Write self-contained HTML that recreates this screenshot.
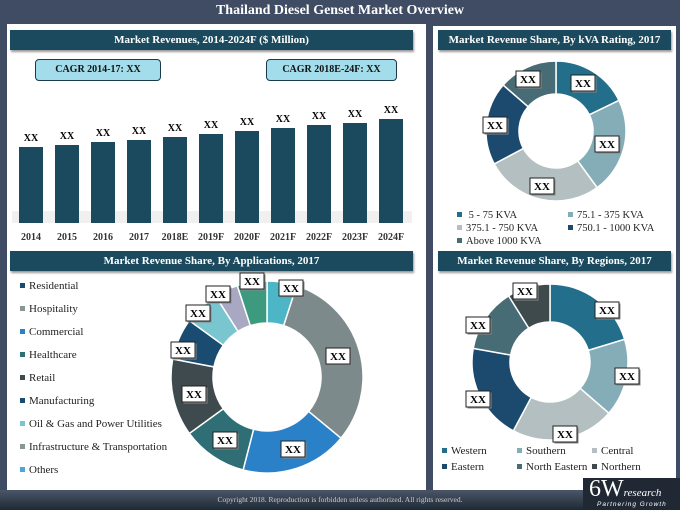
<!DOCTYPE html>
<html><head><meta charset="utf-8">
<style>
*{margin:0;padding:0;box-sizing:border-box}
body{width:680px;height:510px;overflow:hidden;background:#3f4c63;font-family:"Liberation Serif",serif;position:relative}
.abs{position:absolute}
.hdr{position:absolute;background:#1b4a5e;color:#fff;font-weight:bold;font-size:11px;text-align:center;line-height:20px;box-shadow:1px 2px 2px #999}
.panel{position:absolute;background:#fff}
.cagr{position:absolute;background:#a3dcea;border:1.5px solid #1b3a4e;border-radius:4px;font-weight:bold;font-size:10px;text-align:center;line-height:19px;color:#111}
.leg{position:absolute;font-size:10.5px;color:#222;white-space:nowrap}
.leg i{display:inline-block;width:5px;height:5px;margin-right:4px;vertical-align:middle;position:relative;top:-1px}
</style></head><body>
<div class="abs" style="left:0;top:3px;width:680px;text-align:center;color:#fff;font-weight:bold;font-size:14px">Thailand Diesel Genset Market Overview</div>
<div class="panel" style="left:7px;top:24px;width:419px;height:466px"></div>
<div class="panel" style="left:433px;top:26px;width:243px;height:464px"></div>
<div class="hdr" style="left:10px;top:30px;width:403px">Market Revenues, 2014-2024F ($ Million)</div>
<div class="cagr" style="left:35px;top:59px;width:126px;height:22px">CAGR 2014-17: XX</div>
<div class="cagr" style="left:266px;top:59px;width:131px;height:22px">CAGR 2018E-24F: XX</div>
<div class="hdr" style="left:10px;top:251px;width:403px">Market Revenue Share, By Applications, 2017</div>
<div class="hdr" style="left:438px;top:30px;width:233px">Market Revenue Share, By kVA Rating, 2017</div>
<div class="hdr" style="left:438px;top:251px;width:233px">Market Revenue Share, By Regions, 2017</div>

<svg id="svg" class="abs" style="left:0;top:0" width="680" height="510"></svg>

<div id="legends"></div>
<div class="abs" style="left:0;top:490px;width:680px;height:20px;background:linear-gradient(#4a5668,#1f2935)"></div>
<div class="abs" style="left:0;top:495px;width:680px;text-align:center;color:#ccc;font-size:7.5px">Copyright 2018. Reproduction is forbidden unless authorized. All rights reserved.</div>
<div class="abs" style="left:583px;top:478px;width:97px;height:32px;background:#1f2833;color:#fff">
 <div style="position:absolute;left:6px;top:-2px;font-size:24px;line-height:26px">6W<span style="font-size:11px;font-style:italic">research</span></div>
 <div style="position:absolute;left:14px;top:23px;font-size:6.5px;font-style:italic;letter-spacing:1px;font-family:'Liberation Sans',sans-serif">Partnering Growth</div>
</div>

<script>
const years=["2014","2015","2016","2017","2018E","2019F","2020F","2021F","2022F","2023F","2024F"];
const revenues=[76,78,81,83,86,89,92,95,98,100,104];
const appNames=["Others","Hospitality","Commercial","Healthcare","Retail","Manufacturing","Oil & Gas and Power Utilities","Infrastructure & Transportation","Green"];
const appShares=[5,31,18,11,13,7,6,4,5];
const kvaNames=["5 - 75 KVA","75.1 - 375 KVA","375.1 - 750 KVA","750.1 - 1000 KVA","Above 1000 KVA"];
const kvaShares=[17.8,22.2,27.2,19.2,13.6];
const regionNames=["Western","Southern","Central","Eastern","North Eastern","Northern"];
const regionShares=[20.3,16.1,21.4,20,13.3,8.9];

const NS="http://www.w3.org/2000/svg";
const svg=document.getElementById('svg');
function mk(t,a,p){const e=document.createElementNS(NS,t);for(const k in a)e.setAttribute(k,a[k]);(p||svg).appendChild(e);return e;}
function box(x,y,p){const g=mk('g',{});
 
 
 mk('rect',{x:x-12+1.5,y:y-8+1.5,width:24,height:16,fill:'#888'},g);
 mk('rect',{x:x-12,y:y-8,width:24,height:16,fill:'#fff',stroke:'#222','stroke-width':1},g);
 const t=mk('text',{x:x,y:y+4,'text-anchor':'middle','font-size':11,'font-weight':'bold','font-family':'Liberation Serif, serif'},g);t.textContent='XX';}

// bars
const base=223,x0=31,step=36,bw=24,scale=1;
const ys=v=>base-v*scale;
mk('rect',{x:12,y:base-12,width:400,height:12,fill:'#e6e6e6',opacity:0.6});
years.forEach((y,i)=>{
 const cx=x0+i*step;
 const r=mk('rect',{x:cx-bw/2,y:ys(revenues[i]),width:bw,height:revenues[i]*scale,fill:'#1b4a5e'});
 
 
 const l=mk('text',{x:cx,y:ys(revenues[i])-6,'text-anchor':'middle','font-size':10,'font-weight':'bold','font-family':'Liberation Serif, serif'});l.textContent='XX';
 
 
 const t=mk('text',{x:cx,y:240,'text-anchor':'middle','font-size':10,'font-weight':'bold','fill':'#333','font-family':'Liberation Serif, serif'});t.textContent=y;
 
 
});

function donut(cx,cy,R,r,shares,colors,name){
 const tot=shares.reduce((a,b)=>a+b,0);let a=0;
 shares.forEach((s,i)=>{
  const a0=a/tot*2*Math.PI,a1=(a+s)/tot*2*Math.PI;a+=s;
  const P=(rad,an)=>[cx+rad*Math.sin(an),cy-rad*Math.cos(an)];
  const [x1,y1]=P(R,a0),[x2,y2]=P(R,a1),[x3,y3]=P(r,a1),[x4,y4]=P(r,a0);
  const lg=(a1-a0)>Math.PI?1:0;
  const p=mk('path',{d:`M${x1},${y1}A${R},${R} 0 ${lg} 1 ${x2},${y2}L${x3},${y3}A${r},${r} 0 ${lg} 0 ${x4},${y4}Z`,fill:colors[i],stroke:'#fff','stroke-width':1.5});
  
  
 });
}
const appColors=["#4db6c6","#7c8a8c","#2a81c8","#2e6e74","#3f4a4e","#1a4b70","#7ac6d0","#a8a8c2","#3e9a7f"];
donut(267,377,96,54,appShares,appColors,'applications');
const kvaColors=["#236e8a","#85adb8","#b3bfc0","#1b4a6e","#476c75"];
donut(556,131,70,37,kvaShares,kvaColors,'kva');
const regColors=["#236e8a","#85adb8","#b3bfc0","#1b4a6e","#476c75","#3f4a4d"];
donut(550,362,78,40,regionShares,regColors,'regions');

[[252,281],[291,288],[218,294],[198,313],[183,350],[338,356],[194,394],[225,440],[293,449]].forEach(p=>box(p[0],p[1]));
[[528,79],[583,83],[495,125],[607,144],[542,186]].forEach(p=>box(p[0],p[1]));
[[525,291],[607,310],[478,325],[627,376],[478,399],[565,434]].forEach(p=>box(p[0],p[1]));

const L=document.getElementById('legends');
function leg(x,y,txt,col,fs){const d=document.createElement('div');d.className='leg';d.style.left=x+'px';d.style.top=y+'px';if(fs)d.style.fontSize=fs+'px';
 
 
 const i=document.createElement('i');i.style.background=col;d.appendChild(i);
 d.appendChild(document.createTextNode(txt));L.appendChild(d);}
const appLeg=[["Residential","#1a4b70"],["Hospitality","#8a9596"],["Commercial","#2a81c8"],["Healthcare","#2e6e74"],["Retail","#3f4a4e"],["Manufacturing","#1a4b70"],["Oil & Gas and Power Utilities","#7ac6d0"],["Infrastructure & Transportation","#8a9596"],["Others","#4aa6e0"]];
appLeg.forEach((e,i)=>leg(20,280+i*23,e[0],e[1],11));
leg(457,210,"\u00a05 - 75 KVA",kvaColors[0],10.5);
leg(568,210,"75.1 - 375 KVA",kvaColors[1],10.5);
leg(457,223,"375.1 - 750 KVA",kvaColors[2],10.5);
leg(568,223,"750.1 - 1000 KVA",kvaColors[3],10.5);
leg(457,236,"Above 1000 KVA",kvaColors[4],10.5);
const rx=[442,517,592];
regionNames.forEach((n,i)=>leg(rx[i%3],445+Math.floor(i/3)*16,n,regColors[i],11));
</script>
</body></html>
